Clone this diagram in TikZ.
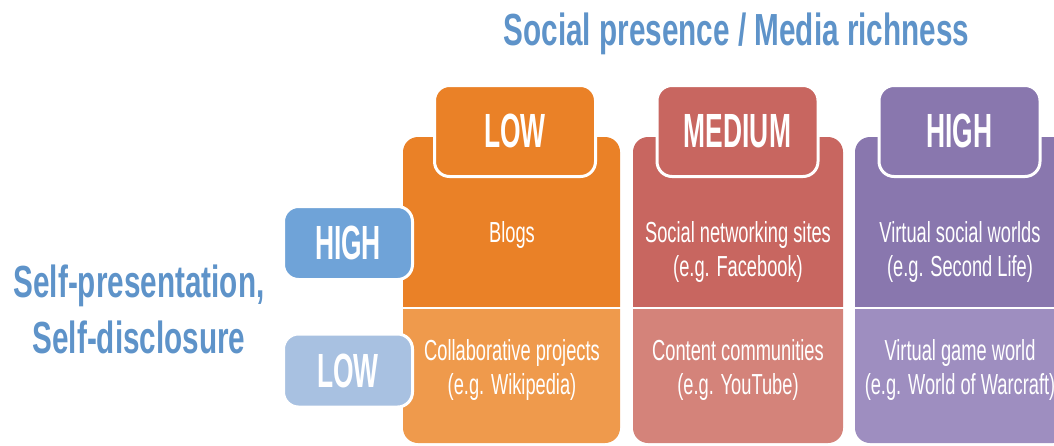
\documentclass[tikz,border=0pt]{standalone}
\usepackage{fontspec}
\setmainfont{Liberation Sans}
\newfontfamily\headfont{Liberation Sans}[FakeStretch=0.66]
\newfontfamily\tabfont{Liberation Sans}[FakeStretch=0.55]
\newfontfamily\cellfont{Liberation Sans}[FakeStretch=0.63]

\definecolor{orangeD}{HTML}{EA8127}
\definecolor{orangeL}{HTML}{EF9A4C}
\definecolor{redD}{HTML}{C86660}
\definecolor{redL}{HTML}{D4837A}
\definecolor{purpleD}{HTML}{8977AE}
\definecolor{purpleL}{HTML}{9E8EC0}
\definecolor{blueD}{HTML}{6FA3D8}
\definecolor{blueL}{HTML}{A8C1E1}
\definecolor{titleblue}{HTML}{5E93C9}

% one column: dark upper cell and light lower cell, separated by a white gap
\newcommand\drawcolumn[4]{%
  \begin{scope}
    \clip (#1-5,130) rectangle (#2+5,306.5);
    \fill[#3, rounded corners=15pt] (#1,137) rectangle (#2,443);
  \end{scope}
  \begin{scope}
    \clip (#1-5,309.5) rectangle (#2+5,450);
    \fill[#4, rounded corners=15pt] (#1,137) rectangle (#2,443);
  \end{scope}}

\tikzset{
  headtext/.style={text=titleblue, inner sep=0pt,
    font=\headfont\bfseries\fontsize{45}{56}\selectfont},
  tabbox/.style={draw=white, line width=3pt, rounded corners=15pt,
    inner sep=0pt, text=white,
    font=\tabfont\bfseries\fontsize{48}{48}\selectfont},
  toptab/.style={tabbox, minimum width=161pt, minimum height=91pt},
  sidetab/.style={tabbox, minimum width=129pt, minimum height=73pt},
  celltext/.style={text=white, inner sep=0pt, align=center, anchor=north,
    font=\cellfont\fontsize{29}{34}\selectfont},
}

\begin{document}
\begin{tikzpicture}[x=1pt, y=-1pt]
  \useasboundingbox (0,0) rectangle (1054,445);

  % axis titles
  \node[headtext, anchor=base] (axisx) at (736.5,45) {Social presence / Media richness};
  \node[headtext, anchor=north, align=center] (axisy) at (139,265)
    {Self-presentation,\\Self-disclosure};

  % column bodies
  \drawcolumn{403}{620}{orangeD}{orangeL}
  \drawcolumn{633}{843}{redD}{redL}
  \drawcolumn{855}{1068}{purpleD}{purpleL}

  % column headers
  \node[toptab, fill=orangeD] (clow)  at (515,131)   {LOW};
  \node[toptab, fill=redD]    (cmed)  at (737.5,131) {MEDIUM};
  \node[toptab, fill=purpleD] (chigh) at (959.5,131) {HIGH};

  % row headers
  \node[sidetab, fill=blueD] (rhigh) at (348,243)   {HIGH};
  \node[sidetab, fill=blueL] (rlow)  at (348,370.5) {LOW};

  % cell contents
  \node[celltext] (blogs) at (512,221) {Blogs};
  \node[celltext] (sns)   at (738,221) {Social networking sites\\(e.g. Facebook)};
  \node[celltext] (vsw)   at (960,221) {Virtual social worlds\\(e.g. Second Life)};
  \node[celltext] (collab)  at (512,339) {Collaborative projects\\(e.g. Wikipedia)};
  \node[celltext] (content) at (738,339) {Content communities\\(e.g. YouTube)};
  \node[celltext] (vgw)     at (960,339) {Virtual game world\\(e.g. World of Warcraft)};
\end{tikzpicture}
\end{document}
